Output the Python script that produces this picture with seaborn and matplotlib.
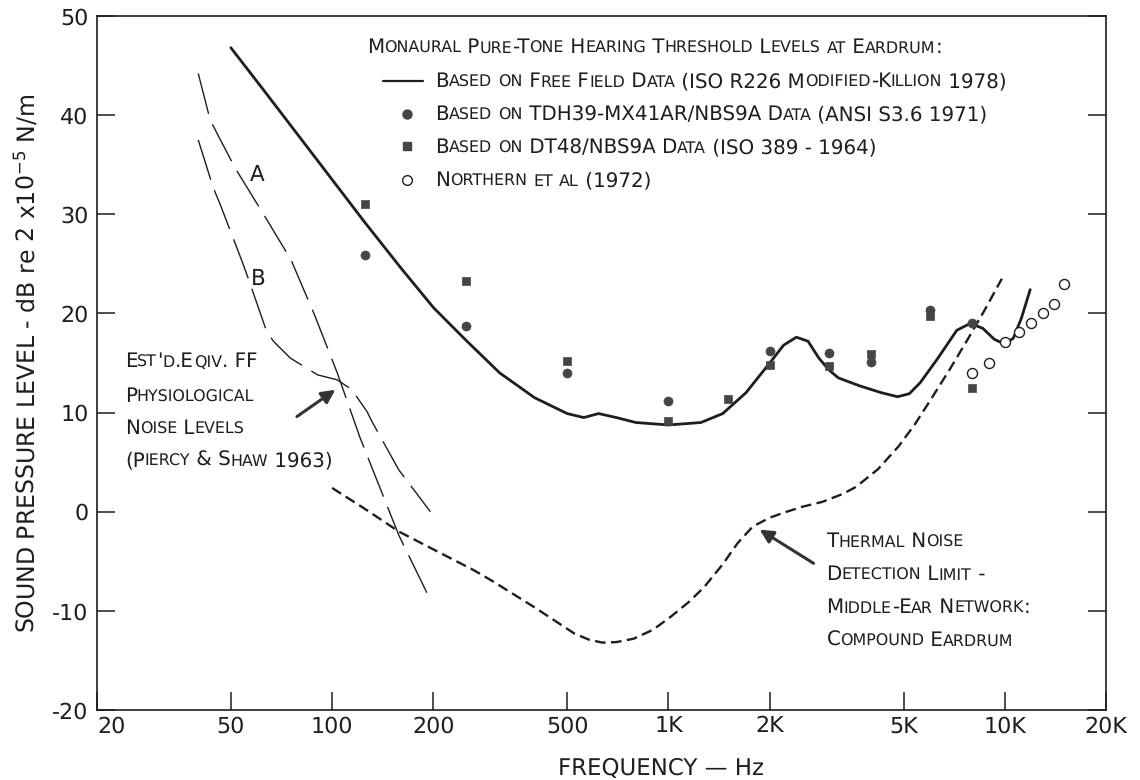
import matplotlib
matplotlib.use("Agg")
import matplotlib.pyplot as plt
from matplotlib.font_manager import FontProperties
from matplotlib.ticker import NullLocator
from matplotlib.transforms import offset_copy
import numpy as np
import pandas as pd
import seaborn as sns

# free field threshold curve (ISO R226 modified - Killion 1978)
ff_freq = [50, 63, 80, 100, 125, 160, 200, 250, 315, 400, 500, 560, 620, 700, 800,
           1000, 1250, 1450, 1700, 2000, 2200, 2400, 2600, 2800, 3000, 3200, 3700,
           4300, 4800, 5200, 5600, 6300, 7200, 7900, 8600, 9300, 10000, 10600, 11200, 11900]
ff_db = [46.8, 42.4, 37.8, 33.5, 29.2, 24.6, 20.6, 17.3, 14.0, 11.5, 9.9, 9.5, 9.9, 9.5, 9.0,
         8.75, 9.0, 9.9, 12.0, 15.0, 16.8, 17.6, 17.2, 15.5, 14.3, 13.5, 12.7,
         12.0, 11.6, 11.9, 13.0, 15.4, 18.3, 19.0, 18.5, 17.4, 16.9, 17.5, 19.5, 22.4]

# TDH39-MX41AR/NBS9A earphone data (filled circles)
tdh_freq = [125, 250, 500, 1000, 2000, 3000, 4000, 6000, 8000]
tdh_db = [25.9, 18.7, 14.0, 11.2, 16.2, 16.0, 15.1, 20.3, 19.0]

# DT48/NBS9A data (filled squares)
dt_freq = [125, 250, 500, 1000, 1500, 2000, 3000, 4000, 6000, 8000]
dt_db = [31.0, 23.3, 15.2, 9.2, 11.4, 14.8, 14.7, 15.9, 19.7, 12.5]

# Northern et al (1972), open circles
nor_freq = [8000, 9000, 10000, 11000, 12000, 13000, 14000, 15000]
nor_db = [14.0, 15.0, 17.1, 18.1, 19.0, 20.0, 21.0, 23.0]

# thermal noise detection limit (short dashes)
th_freq = [100, 125, 158, 200, 264, 300, 398, 460, 526, 580, 636, 700, 789, 900, 1015,
           1150, 1277, 1450, 1603, 1780, 2000, 2200, 2500, 2870, 3300, 3610, 4200, 4835,
           5400, 6100, 6900, 7700, 8700, 9800]
th_db = [2.4, 0.3, -2.0, -3.8, -5.9, -7.0, -9.6, -11.0, -12.3, -12.9, -13.2, -13.15, -12.8, -11.9, -10.6,
         -9.1, -7.6, -5.3, -3.2, -1.5, -0.6, -0.1, 0.5, 1.0, 1.8, 2.5, 4.3, 6.6,
         8.8, 11.6, 14.5, 17.2, 20.3, 23.5]

# physiological noise levels, curves A and B (long dashes)
a_freq = [40, 43.4, 51.4, 62.3, 75.5, 88.8, 103.6, 121, 142.6, 157.8, 196]
a_db = [44.2, 39.5, 34.7, 30.1, 25.4, 19.8, 14.0, 7.5, 1.4, -2.35, -8.9]
b_freq = [40, 44.3, 46.6, 54.2, 56.5, 63.7, 66.9, 75.1, 90.6, 103.7, 114.5, 127, 131.6, 151, 158, 196]
b_db = [37.5, 32.7, 30.9, 25.1, 23.4, 18.3, 17.2, 15.5, 13.8, 13.3, 12.3, 10.1, 9.05, 5.4, 4.2, 0.0]

x_ticks = [20, 50, 100, 200, 500, 1000, 2000, 5000, 10000, 20000]
x_ticklabels = ["20", "50", "100", "200", "500", "1K", "2K", "5K", "10K", "20K"]
y_ticks = [-20, -10, 0, 10, 20, 30, 40, 50]

legend_title = "Monaural Pure-Tone Hearing Threshold Levels at Eardrum:"
legend_entries = ["Based on Free Field Data (ISO R226 Modified-Killion 1978)",
                  "Based on TDH39-MX41AR/NBS9A Data (ANSI S3.6 1971)",
                  "Based on DT48/NBS9A Data (ISO 389 - 1964)",
                  "Northern et al (1972)"]
physio_note = ["Est'd.Eqiv. FF", "Physiological", "Noise Levels", "(Piercy & Shaw 1963)"]
thermal_note = ["Thermal Noise", "Detection Limit -", "Middle-Ear Network:", "Compound Eardrum"]

INK = "#1e1e1e"
MARK = "#454545"

sns.set_theme(style="ticks")
plt.rcParams["font.family"] = ["DejaVu Sans"]
plt.rcParams["text.hinting"] = "no_hinting"

fig, ax = plt.subplots(figsize=(11.4, 7.8), dpi=100)
fig.subplots_adjust(left=0.0851, right=0.9702, bottom=0.0897, top=0.9795)
renderer = fig.canvas.get_renderer()


def text_width(s, size):
    prop = FontProperties(family="DejaVu Sans", size=size)
    w1, _, _ = renderer.get_text_width_height_descent("|" + s + "|", prop, ismath=False)
    w0, _, _ = renderer.get_text_width_height_descent("||", prop, ismath=False)
    return w1 - w0


def small_caps(x, y, s, trans, size=14.3, ratio=0.8):
    # lettering-guide style: lower case letters drawn as smaller capitals
    runs = []
    for ch in s:
        low = ch.islower()
        if runs and runs[-1][1] == low:
            runs[-1][0] += ch
        else:
            runs.append([ch, low])
    dx = 0.0
    for txt, low in runs:
        fs = size * ratio if low else size
        ax.text(x, y, txt.upper(), fontsize=fs, color=INK, ha="left", va="baseline",
                transform=offset_copy(trans, fig=fig, x=dx, y=0, units="dots"), clip_on=False)
        dx += text_width(txt.upper(), fs)


ff = pd.DataFrame({"freq": ff_freq, "db": ff_db})
th = pd.DataFrame({"freq": th_freq, "db": th_db})
sns.lineplot(data=ff, x="freq", y="db", color=INK, linewidth=2.0, sort=False, ax=ax)
sns.lineplot(data=th, x="freq", y="db", color=INK, linewidth=1.7, sort=False,
             linestyle=(0, (4.5, 2.3)), ax=ax)
sns.lineplot(x=a_freq, y=a_db, color=INK, linewidth=1.0, sort=False,
             linestyle=(0, (30, 8)), ax=ax)
sns.lineplot(x=b_freq, y=b_db, color=INK, linewidth=1.0, sort=False,
             linestyle=(0, (30, 8)), ax=ax)

sns.scatterplot(x=tdh_freq, y=tdh_db, marker="o", s=42, color=MARK, edgecolor=MARK, ax=ax, zorder=5)
sns.scatterplot(x=dt_freq, y=dt_db, marker="s", s=36, color=MARK, edgecolor=MARK, ax=ax, zorder=5)
sns.scatterplot(x=nor_freq, y=nor_db, marker="o", s=52, color="white", edgecolor=INK,
                linewidth=1.0, ax=ax, zorder=5)

ax.set_xscale("log")
ax.set_xlim(20, 20000)
ax.set_ylim(-20, 50)
ax.set_xticks(x_ticks)
ax.set_xticklabels(x_ticklabels)
ax.xaxis.set_minor_locator(NullLocator())
ax.set_yticks(y_ticks)
ax.set_yticklabels([str(v) for v in y_ticks])
ax.tick_params(axis="both", direction="in", length=13, width=1.1, color=INK,
               labelsize=16, labelcolor=INK)
ax.tick_params(axis="y", right=True, pad=6)
ax.tick_params(axis="x", pad=4)
ax.get_xticklabels()[0].set_horizontalalignment("left")
for side in ["left", "right", "top", "bottom"]:
    ax.spines[side].set_visible(True)
    ax.spines[side].set_linewidth(1.2)
    ax.spines[side].set_color(INK)

ax.set_xlabel("FREQUENCY \u2014 Hz", fontsize=16.5, color=INK)
ax.xaxis.set_label_coords(0.559, -0.068)
ax.set_ylabel("SOUND PRESSURE LEVEL - dB re 2 x10$^{-5}$ N/m", fontsize=17, color=INK)
ax.yaxis.set_label_coords(-0.057, 0.5)

# curve labels
ax.text(59.8, 34.0, "A", fontsize=15.5, color=INK, ha="center", va="center")
ax.text(60.3, 23.5, "B", fontsize=15.5, color=INK, ha="center", va="center")

# legend block drawn by hand
ta = ax.transAxes
small_caps(0.2676, 0.9467, legend_title, ta)
row_base = [0.8977, 0.8501, 0.8026, 0.7550]
for base, label in zip(row_base, legend_entries):
    small_caps(0.335, base, label, ta)
ax.plot([0.2834, 0.3231], [0.9063, 0.9063], color=INK, lw=1.6, transform=ta, clip_on=False)
ax.plot([0.3072], [0.8595], marker="o", ms=6.5, color=MARK, transform=ta, clip_on=False)
ax.plot([0.3072], [0.8120], marker="s", ms=5.8, color=MARK, transform=ta, clip_on=False)
ax.plot([0.3072], [0.7644], marker="o", ms=7, mfc="white", mec=INK, mew=1.0,
        transform=ta, clip_on=False)

# physiological noise note and arrow
for line, yv in zip(physio_note, [14.6, 11.07, 7.84, 4.61]):
    small_caps(24.2, yv, line, ax.transData)
ax.annotate("", xy=(102.2, 12.3), xytext=(78.6, 9.6),
            arrowprops=dict(arrowstyle="-|>", color="#333333", lw=2.2,
                            mutation_scale=20, shrinkA=0, shrinkB=0))

# thermal noise note and arrow
for line, yv in zip(thermal_note, [-3.56, -6.89, -10.2, -13.5]):
    small_caps(2950, yv, line, ax.transData)
ax.annotate("", xy=(1867, -1.8), xytext=(2700, -5.2),
            arrowprops=dict(arrowstyle="-|>", color="#333333", lw=2.2,
                            mutation_scale=20, shrinkA=0, shrinkB=0))

fig.savefig("out.png", dpi=100)
